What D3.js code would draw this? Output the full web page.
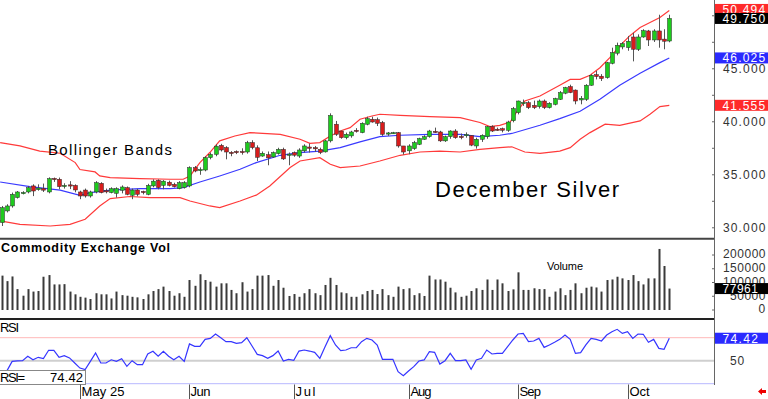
<!DOCTYPE html>
<html><head><meta charset="utf-8">
<script src="https://cdn.jsdelivr.net/npm/d3@7"></script>
<style>
body{margin:0;background:#fff;}
svg{display:block;font-family:"Liberation Sans",Arial,sans-serif;}
</style>
</head><body>
<svg id="c" width="768" height="399"></svg>
<script>
// ---------- data ----------
const openP = [30.49,31.59,32.06,32.85,33.27,33.38,33.95,33.60,33.70,33.38,34.66,34.58,33.90,34.05,34.00,33.38,33.56,33.00,33.38,34.20,
33.50,33.32,33.25,33.54,33.79,33.07,33.56,33.43,33.16,33.95,34.48,34.00,34.30,34.10,33.70,33.80,33.95,35.68,35.40,35.45,
36.62,36.93,37.78,37.57,37.12,37.20,37.20,37.15,38.04,37.55,36.77,36.90,36.68,37.00,37.40,36.85,37.10,36.77,37.26,37.62,
37.56,37.40,37.16,38.20,39.77,39.13,38.50,38.67,39.20,38.98,39.77,40.24,40.20,39.93,38.87,38.95,38.98,37.72,37.26,37.47,
37.88,38.35,38.60,39.10,39.04,38.20,38.60,39.13,38.62,38.75,38.70,37.72,38.35,38.60,39.54,39.30,39.35,39.20,40.10,40.87,
41.80,41.80,41.55,41.43,41.96,41.34,41.65,42.12,42.70,43.32,42.99,42.06,42.12,43.45,44.45,44.30,44.17,45.52,46.47,47.06,
47.00,48.00,46.84,48.00,48.57,47.72,48.57,47.80,47.62];
const highP = [32.06,32.22,33.32,33.47,33.45,33.95,34.10,34.10,34.17,34.76,34.74,34.74,34.20,34.40,34.10,33.50,33.70,33.50,34.40,34.30,
33.70,33.82,33.82,34.00,33.90,33.70,33.68,33.50,34.15,34.57,34.57,34.50,34.45,34.25,34.40,34.40,35.80,35.83,35.70,36.75,
37.10,37.88,37.92,37.70,37.23,37.30,37.50,38.20,38.26,37.78,37.20,37.20,37.20,37.55,37.56,37.10,37.20,37.50,37.88,37.96,
37.72,37.56,38.30,40.80,40.08,39.15,38.98,39.15,39.40,39.95,40.48,40.48,40.40,40.08,39.04,39.05,39.04,37.72,37.88,38.20,
38.50,38.73,39.24,39.45,39.15,38.70,39.20,39.30,38.90,39.00,38.73,38.50,38.82,39.60,39.67,39.45,39.45,40.10,41.40,42.00,
42.10,41.95,42.00,42.10,42.10,41.85,42.27,42.90,43.30,43.50,43.05,42.43,43.55,44.50,44.80,44.50,45.65,46.99,47.47,47.53,
48.10,48.40,48.25,48.73,48.67,48.73,50.10,48.73,50.10];
const lowP = [30.17,31.45,31.90,32.76,33.15,33.25,32.99,33.50,33.38,33.25,34.33,33.63,33.70,33.65,33.35,32.70,32.85,32.85,33.25,33.25,
33.25,33.25,32.85,33.25,33.07,32.70,32.97,33.15,33.07,33.82,33.63,33.63,33.90,33.80,33.63,33.70,33.82,35.24,35.00,35.33,
36.46,36.75,37.20,36.46,36.75,36.95,36.90,37.00,37.40,36.30,36.70,35.90,36.60,36.90,36.40,35.90,36.70,36.60,37.10,37.10,
37.16,36.95,37.10,38.05,38.67,38.40,38.35,38.50,38.98,38.92,39.67,39.92,39.60,38.67,38.67,38.85,37.56,36.90,36.94,37.35,
37.80,38.30,38.50,38.95,38.10,38.10,38.40,38.40,38.35,38.50,37.70,37.47,38.10,38.40,39.04,39.15,39.00,39.05,39.95,40.70,
41.50,41.20,41.20,41.25,41.20,41.25,41.55,42.06,42.60,42.70,41.65,41.65,41.97,43.40,44.00,43.85,44.07,45.42,46.27,46.84,
46.70,45.70,46.68,47.93,47.15,47.53,46.99,46.84,47.50];
const closeP = [31.90,32.06,33.16,33.38,33.33,33.79,33.47,33.75,33.55,34.64,34.60,33.88,34.00,33.95,33.57,33.00,33.00,33.38,34.26,33.32,
33.45,33.70,33.70,33.85,33.16,33.56,33.16,33.38,34.00,34.40,33.79,34.40,34.00,33.88,34.26,34.26,35.68,35.36,35.50,36.62,
36.93,37.70,37.34,37.15,37.10,37.15,37.18,38.04,37.57,36.65,37.03,36.60,37.10,37.40,36.50,36.95,36.85,37.34,37.72,37.50,
37.50,37.10,38.20,40.60,38.82,38.50,38.82,39.04,39.15,39.86,40.30,39.98,39.86,38.82,38.95,38.98,37.72,37.15,37.72,38.04,
38.42,38.60,39.13,39.04,38.20,38.60,39.13,38.50,38.55,38.80,37.80,38.35,38.73,39.54,39.13,39.25,39.20,39.98,41.25,41.96,
41.82,41.34,41.34,41.96,41.34,41.75,42.19,42.76,43.23,42.76,41.96,42.22,43.45,44.39,44.27,44.08,45.58,46.53,47.22,47.37,
47.60,46.84,48.00,48.60,47.72,48.57,47.72,47.60,49.75];
const volume = [125000,105000,122000,76000,52000,76000,67000,69000,121000,127000,93000,93000,94000,67000,57000,48000,45000,40000,61000,57000,
57000,42000,67000,54000,52000,48000,46000,40000,57000,69000,76000,85000,69000,52000,61000,48000,109000,88000,130000,109000,
103000,85000,97000,97000,73000,61000,101000,67000,76000,125000,125000,127000,88000,109000,81000,51000,58000,48000,61000,76000,
61000,54000,91000,117000,91000,64000,61000,48000,48000,57000,69000,73000,58000,76000,54000,48000,85000,76000,79000,54000,
61000,51000,125000,111000,111000,103000,81000,64000,48000,52000,69000,79000,73000,111000,73000,111000,97000,69000,75000,137000,
73000,73000,79000,76000,76000,48000,67000,79000,54000,73000,97000,61000,81000,85000,82000,67000,109000,111000,121000,115000,
109000,127000,105000,93000,115000,115000,222000,160000,77961];
const rsi = [39,39,49.3,49.8,50,54.8,51,53.7,52.2,61.3,61.3,53.7,55.4,53,47.5,42,40.3,49.3,58.4,47.5,
47.5,51,49.3,52.2,43.9,50,45.7,45.7,57.3,60.2,54.8,60.2,54.8,51,54.8,49.3,68.2,65.6,65.6,73.2,
74.3,79,75,70.7,70.7,68.9,69.6,75,66,56.9,55.5,52.6,55.5,60.5,49.7,51.5,50.4,60.5,61.6,60.5,
59.1,52.6,65.2,77.2,67.1,60.9,61.6,64.1,64.1,70.7,74.3,72.5,67.1,51.5,51.5,51.5,38,33.7,38.8,43.5,
49.7,50.8,59.8,59.1,46.4,50,58,50,50,50.8,40.6,50.8,52.6,61.6,57.3,58,58,65.2,72.5,79,
79.7,70.7,71.4,74.3,64.5,67.1,70,73.2,77.9,73.2,58,58.7,67.1,74.3,73.2,71.4,77.9,81.5,84.1,79.7,
81.5,74.3,79,78.7,70,73.2,63.4,62.4,74.42];
// Bollinger bands as [bar index, price]
const upperBand = [[-0.3,38.04],[3.5,37.72],[7.3,37.24],[11.2,37.03],[14.1,36.15],[15,35.5],[17.9,35.27],[18.8,34.9],[20.8,34.74],[26.5,34.64],
[32.3,34.58],[34.8,34.58],[36.1,34.89],[38,36.15],[39.9,37.1],[41.8,38.2],[44.7,38.66],[47.6,38.98],[53.4,38.82],[57.2,38.35],
[59.1,37.97],[61,38.04],[63,38.66],[64.9,39.13],[66.8,39.45],[68.7,40.24],[71,40.55],[72.5,40.71],[76.4,40.6],[82.1,40.49],
[87.9,40.4],[91.7,39.93],[93.6,39.55],[95.5,39.67],[97.5,39.98],[98.4,40.71],[100.3,41.96],[103.2,42.43],[107,43.44],[109,44.0],
[110.9,44.0],[112.8,44.39],[114.7,45.1],[116.6,46.05],[118.5,47.15],[120.4,48.1],[122.4,48.9],[124.3,49.36],[126.2,49.83],[128,50.494]];
const midBand = [[-0.3,34.32],[5.4,33.88],[11.2,33.56],[15,33.06],[17,33.32],[20.8,33.56],[26.5,33.7],[32.3,33.7],[34.8,33.79],[38,34.32],
[41.8,34.89],[45.7,35.52],[48.8,36.15],[53.4,36.84],[57.2,37.1],[61,37.24],[64.9,37.56],[68.7,38.1],[72.5,38.6],[76.4,38.73],
[82.1,38.82],[87.9,38.82],[91.7,38.6],[95.5,38.73],[97.8,38.9],[103.2,39.67],[107,40.3],[110.9,41.0],[114.7,42.12],[118.5,43.44],
[122.4,44.58],[126.2,45.58],[128,46.025]];
const lowerBand = [[-0.3,30.65],[3.5,30.33],[9.3,30.17],[13.1,30.33],[16,30.8],[18.8,32.06],[20.8,32.76],[24.6,32.95],[28.4,32.85],[34.2,32.85],
[36.1,32.53],[39.9,32.06],[41.8,31.9],[45.7,32.53],[48.8,33.08],[51.4,33.94],[55.3,35.68],[57.2,36.3],[61,36.62],[63,36.0],
[64.9,35.68],[68.7,35.83],[72.5,36.3],[76.4,36.84],[80.2,37.15],[84,37.24],[87.9,37.15],[91.7,37.4],[95.5,37.56],[97.8,37.64],
[100.3,37.15],[103.2,37.03],[107,37.24],[109,37.56],[110.9,38.35],[112.8,38.98],[115.7,39.77],[118.5,39.67],[122.4,40.08],[124.3,40.71],
[126.2,41.43],[128,41.555]];
const monthTickIdx = [15,36,56,78,99,120];
const monthLabels = ["May 25","Jun","Jul","Aug","Sep","Oct"];
const priceTickVals = [30,35,40,45,50];
const priceMinorVals = [30,32.5,35,37.5,40,42.5,45,47.5,50];
const volTickVals = [0,50000,100000,150000,200000];
const rsiLevels = [25,50,75];
const lastUpper = 50.494, lastClose = 49.750, lastMid = 46.025, lastLower = 41.555;
const lastVol = 77961, lastRsi = 74.42;

// ---------- layout ----------
const svg = d3.select("#c");
const W = 768, axisX = 714;
const x = d3.scaleLinear().domain([0, 128]).range([1.7, 669.3]);
const y = d3.scaleLinear().domain([28.99, 51.49]).range([238.5, 0]);
const yv = d3.scaleLinear().domain([0, 200000]).range([310, 255]);
const yr = d3.scaleLinear().domain([25, 75]).range([383.7, 337.7]);
const GREEN = "#1ecb1e", RED = "#d81c1c";
const bars = d3.range(closeP.length).map(i => ({i, o: openP[i], h: highP[i], l: lowP[i], c: closeP[i], v: volume[i], r: rsi[i]}));

svg.append("rect").attr("width", W).attr("height", 399).attr("fill", "#fff");

// ---------- main panel ----------
const band = d3.line().x(d => x(d[0])).y(d => y(d[1]));
svg.append("path").attr("d", band(upperBand)).attr("fill", "none").attr("stroke", "#ff3a3a").attr("stroke-width", 1.2);
svg.append("path").attr("d", band(lowerBand)).attr("fill", "none").attr("stroke", "#ff3a3a").attr("stroke-width", 1.2);
svg.append("path").attr("d", band(midBand)).attr("fill", "none").attr("stroke", "#3a3aff").attr("stroke-width", 1.2);

const cg = svg.append("g");
cg.selectAll("line.w").data(bars).join("line")
  .attr("x1", d => Math.round(x(d.i)) + 0.5).attr("x2", d => Math.round(x(d.i)) + 0.5)
  .attr("y1", d => y(d.h)).attr("y2", d => y(d.l)).attr("stroke", "#555").attr("stroke-width", 1);
cg.selectAll("rect.b").data(bars).join("rect")
  .attr("x", d => Math.round(x(d.i)) - 1.5).attr("width", 4)
  .attr("y", d => y(Math.max(d.o, d.c)))
  .attr("height", d => Math.max(1.2, Math.abs(y(d.o) - y(d.c))))
  .attr("fill", d => d.c >= d.o ? GREEN : RED)
  .attr("stroke", "#2a2a2a").attr("stroke-width", 0.5);

svg.append("text").attr("x", 48).attr("y", 155).attr("font-size", 15)
  .attr("textLength", 124).attr("lengthAdjust", "spacing").text("Bollinger Bands");
svg.append("text").attr("x", 435).attr("y", 196.5).attr("font-size", 22)
  .attr("textLength", 184).attr("lengthAdjust", "spacing").text("December Silver");

// ---------- volume panel ----------
svg.append("g").selectAll("rect").data(bars).join("rect")
  .attr("x", d => Math.round(x(d.i)) - 0.5).attr("width", 2)
  .attr("y", d => yv(d.v)).attr("height", d => yv(0) - yv(d.v)).attr("fill", "#3a3a3a");
svg.append("text").attr("x", 1).attr("y", 251.5).attr("font-size", 12.5).attr("font-weight", "bold")
  .attr("textLength", 169).attr("lengthAdjust", "spacing").text("Commodity Exchange Vol");
svg.append("text").attr("x", 547).attr("y", 269.5).attr("font-size", 11)
  .attr("textLength", 36).attr("lengthAdjust", "spacing").text("Volume");

// ---------- RSI panel ----------
rsiLevels.forEach(lv => {
  const col = lv === 75 ? "#ffb8b8" : lv === 50 ? "#cfcfcf" : "#b8b8ff";
  svg.append("line").attr("x1", 0).attr("x2", axisX).attr("y1", yr(lv)).attr("y2", yr(lv))
    .attr("stroke", col).attr("stroke-width", lv === 50 ? 2 : 1);
});
svg.append("path").attr("d", d3.line().x(d => x(d.i)).y(d => yr(d.r))(bars))
  .attr("fill", "none").attr("stroke", "#3535ff").attr("stroke-width", 1.2);
svg.append("text").attr("x", 0).attr("y", 332).attr("font-size", 13)
  .attr("textLength", 19).attr("lengthAdjust", "spacing").text("RSI");
svg.append("rect").attr("x", -1).attr("y", 370.5).attr("width", 86.5).attr("height", 14)
  .attr("fill", "#fff").attr("stroke", "#888");
svg.append("text").attr("x", 0).attr("y", 382).attr("font-size", 13)
  .attr("textLength", 25).attr("lengthAdjust", "spacing").text("RSI=");
svg.append("text").attr("x", 50).attr("y", 382).attr("font-size", 13)
  .attr("textLength", 33).attr("lengthAdjust", "spacing").text(d3.format(".2f")(lastRsi));

// ---------- panel borders & axis line ----------
svg.append("line").attr("x1", 0).attr("x2", axisX).attr("y1", 238.8).attr("y2", 238.8).attr("stroke", "#444").attr("stroke-width", 2);
svg.append("line").attr("x1", 0).attr("x2", axisX).attr("y1", 319).attr("y2", 319).attr("stroke", "#222").attr("stroke-width", 2);
svg.append("line").attr("x1", axisX + 0.5).attr("x2", axisX + 0.5).attr("y1", 0).attr("y2", 385).attr("stroke", "#666").attr("stroke-width", 1);

// ---------- right axis ----------
const lab = (val, yy, txt, col, start) => {
  const n = txt.length;
  const x0 = start !== undefined ? start : 765.5 - n * 7.1;
  svg.append("text").attr("x", x0).attr("y", yy).attr("dy", "0.36em").attr("font-size", 12)
    .attr("fill", col).attr("textLength", n * 7.1).attr("lengthAdjust", "spacing").text(txt);
};
priceMinorVals.forEach(v => svg.append("line").attr("x1", axisX - 2).attr("x2", axisX).attr("y1", y(v)).attr("y2", y(v)).attr("stroke", "#666"));
priceTickVals.forEach(v => lab(v, y(v), d3.format(".3f")(v), "#333"));
volTickVals.forEach(v => {
  svg.append("line").attr("x1", axisX - 2).attr("x2", axisX).attr("y1", yv(v)).attr("y2", yv(v)).attr("stroke", "#666");
  lab(v, yv(v) - 1, String(v), "#333");
});
lab(50, yr(50), "50", "#333", 730);

const box = (yy, txt, bg) => {
  svg.append("rect").attr("x", axisX + 1).attr("y", yy - 5.5).attr("width", W - axisX).attr("height", 11).attr("fill", bg);
  svg.append("text").attr("x", 722.5).attr("y", yy).attr("dy", "0.36em").attr("font-size", 12).attr("fill", "#fff")
    .attr("textLength", txt.length * 7.1).attr("lengthAdjust", "spacing").text(txt);
};
const yClose = y(lastClose);
box(Math.min(y(lastUpper), yClose - 9), d3.format(".3f")(lastUpper), "#ff2a2a");
box(yClose, d3.format(".3f")(lastClose), "#000");
box(y(lastMid), d3.format(".3f")(lastMid), "#2a2aff");
box(y(lastLower), d3.format(".3f")(lastLower), "#ff2a2a");
box(yv(lastVol), String(lastVol), "#000");
box(yr(lastRsi), d3.format(".2f")(lastRsi), "#2a2aff");

// ---------- date axis ----------
const labW = [43, 20, 20, 21, 21.5, 20];
monthTickIdx.forEach((ti, k) => {
  const tx = Math.round(x(ti)) + 0.5;
  svg.append("line").attr("x1", tx).attr("x2", tx).attr("y1", 384.5).attr("y2", 399).attr("stroke", "#555");
  svg.append("text").attr("x", tx + 1).attr("y", 396).attr("font-size", 13)
    .attr("textLength", labW[k]).attr("lengthAdjust", "spacing").text(monthLabels[k]);
});
svg.append("path").attr("d", "M758,391.5 L762,388 L762,390 L766,390 L766,393 L762,393 L762,395 Z").attr("fill", "#e00");
</script>
</body></html>
